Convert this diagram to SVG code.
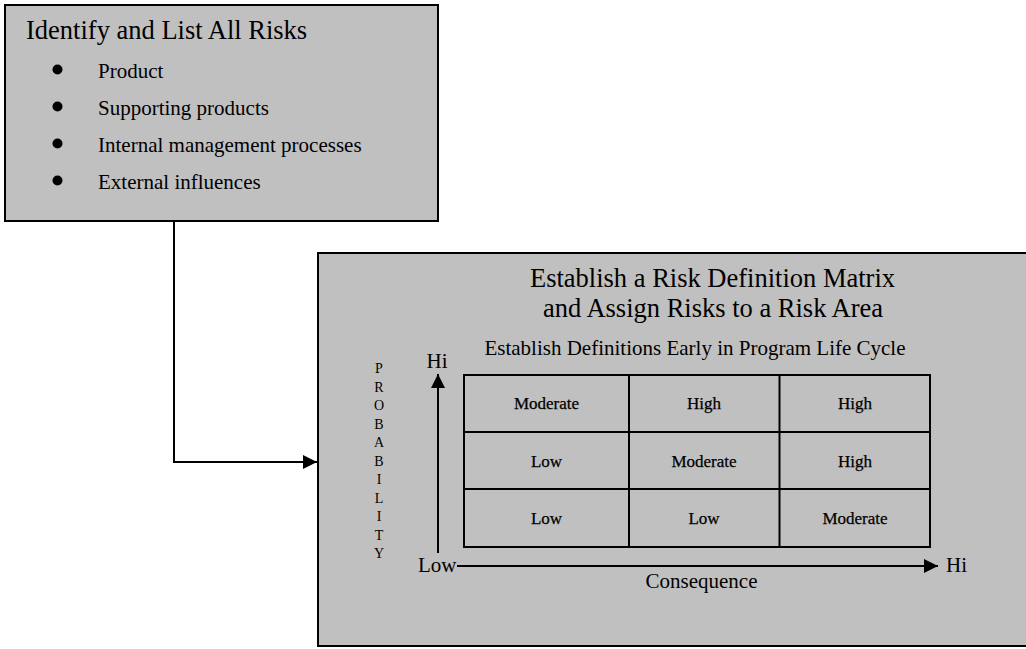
<svg xmlns="http://www.w3.org/2000/svg" width="1026" height="649" viewBox="0 0 1026 649">
  <style>
    .box { fill: #c0c0c0; stroke: #000; stroke-width: 2; }
    .grid { fill: none; stroke: #000; stroke-width: 2; }
    .line { fill: none; stroke: #000; stroke-width: 2; }
    text { font-family: "Liberation Serif", "Times New Roman", serif; fill: #000; }
    .title { font-size: 26.5px; }
    .item { font-size: 21px; }
    .sub { font-size: 21px; }
    .cell { font-size: 17px; text-anchor: middle; stroke: #000; stroke-width: 0.25; }
    .axis { font-size: 21px; }
    .vert { font-size: 14px; text-anchor: middle; }
  </style>
  <defs>
    <marker id="arrow" viewBox="0 0 10 10" refX="10" refY="5" markerWidth="15" markerHeight="14" markerUnits="userSpaceOnUse" orient="auto">
      <path d="M0,0 L10,5 L0,10 z" fill="#000"/>
    </marker>
  </defs>

  <!-- connector from the risk list to the matrix box -->
  <g id="connectors">
    <path class="line" d="M174,221 L174,462 L317,462" marker-end="url(#arrow)"/>
  </g>

  <!-- risk list -->
  <g id="identify">
    <rect class="box" x="5" y="5" width="433" height="216"/>
    <text class="title" x="26" y="39">Identify and List All Risks</text>
    <circle cx="57.5" cy="69.5" r="5"/>
    <circle cx="57.5" cy="106.5" r="5"/>
    <circle cx="57.5" cy="143.5" r="5"/>
    <circle cx="57.5" cy="180.5" r="5"/>
    <text class="item" x="98" y="78">Product</text>
    <text class="item" x="98" y="115">Supporting products</text>
    <text class="item" x="98" y="152">Internal management processes</text>
    <text class="item" x="98" y="189">External influences</text>
  </g>

  <!-- risk definition matrix -->
  <g id="matrix">
    <rect class="box" x="318" y="253" width="720" height="393"/>
    <text class="title" x="712.5" y="287" text-anchor="middle">Establish a Risk Definition Matrix</text>
    <text class="title" x="713" y="317" text-anchor="middle">and Assign Risks to a Risk Area</text>
    <text class="sub" x="695" y="355" text-anchor="middle">Establish Definitions Early in Program Life Cycle</text>

    <!-- vertical axis label -->
    <text class="vert" x="379" y="373.3">P</text>
    <text class="vert" x="379" y="391.8">R</text>
    <text class="vert" x="379" y="410.3">O</text>
    <text class="vert" x="379" y="428.8">B</text>
    <text class="vert" x="379" y="447.3">A</text>
    <text class="vert" x="379" y="465.8">B</text>
    <text class="vert" x="379" y="484.3">I</text>
    <text class="vert" x="379" y="502.8">L</text>
    <text class="vert" x="379" y="521.3">I</text>
    <text class="vert" x="379" y="539.8">T</text>
    <text class="vert" x="379" y="558.3">Y</text>

    <!-- axes -->
    <path class="line" d="M438,553 L438,374" marker-end="url(#arrow)"/>
    <path class="line" d="M457,566 L938,566" marker-end="url(#arrow)"/>
    <text class="axis" x="437" y="368" text-anchor="middle">Hi</text>
    <text class="axis" x="418" y="572">Low</text>
    <text class="axis" x="946" y="572">Hi</text>
    <text class="axis" x="701.5" y="588" text-anchor="middle">Consequence</text>

    <!-- grid -->
    <rect class="grid" x="464" y="375" width="466" height="172"/>
    <path class="grid" d="M464,432 H930 M464,489 H930 M629,375 V547 M779.5,375 V547"/>

    <text class="cell" x="546.5" y="409">Moderate</text>
    <text class="cell" x="704" y="409">High</text>
    <text class="cell" x="855" y="409">High</text>
    <text class="cell" x="546.5" y="467">Low</text>
    <text class="cell" x="704" y="467">Moderate</text>
    <text class="cell" x="855" y="467">High</text>
    <text class="cell" x="546.5" y="524">Low</text>
    <text class="cell" x="704" y="524">Low</text>
    <text class="cell" x="855" y="524">Moderate</text>
  </g>
</svg>
